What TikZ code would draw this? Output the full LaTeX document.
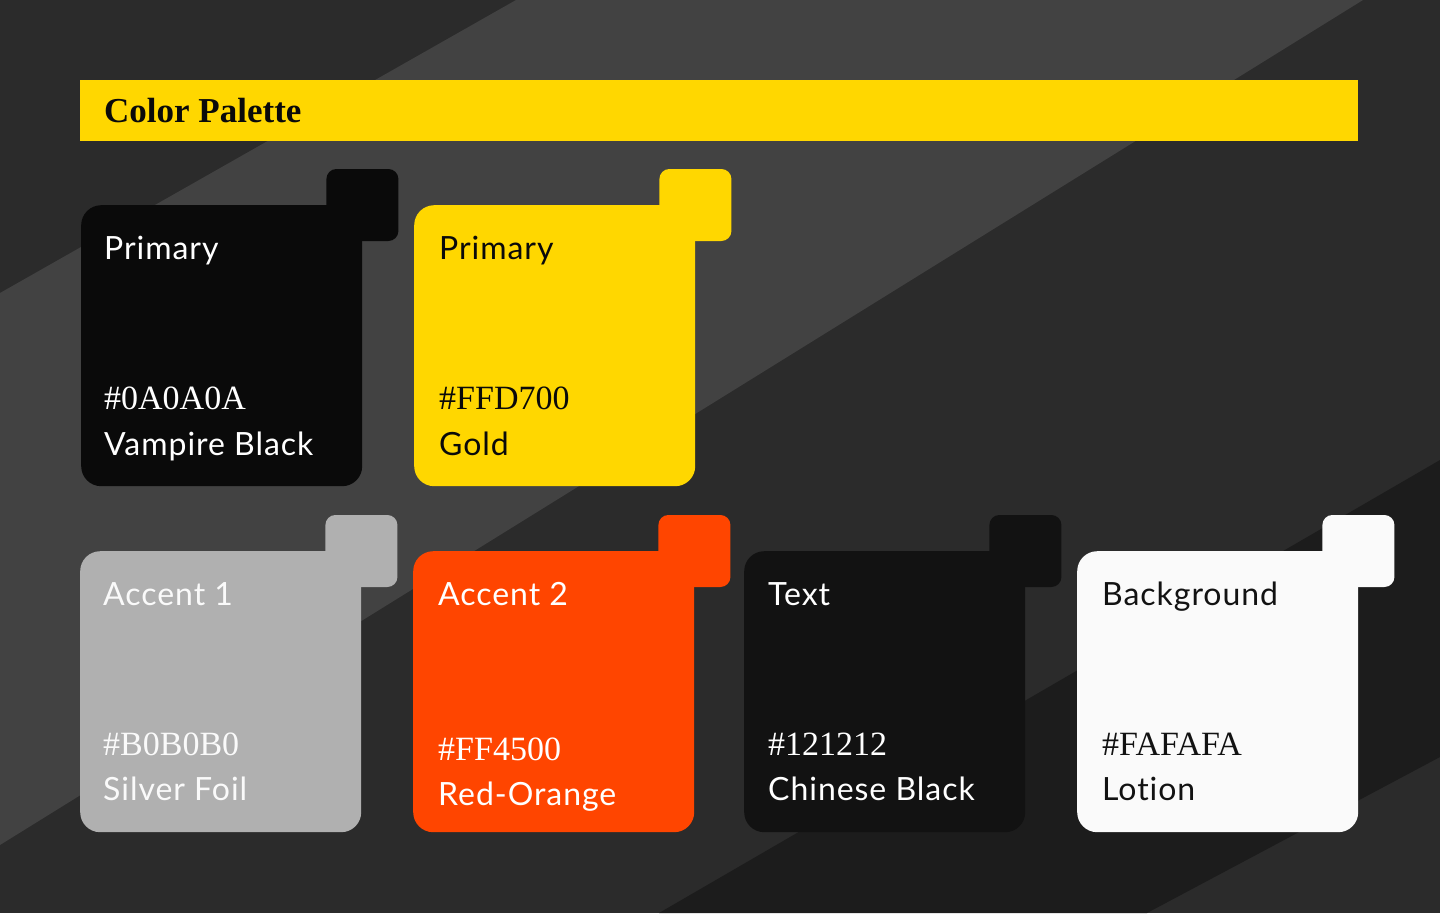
\documentclass[tikz,border=0pt]{standalone}
\usepackage{fontspec}
\newfontfamily\labelfont{Lato}[LetterSpace=3, Ligatures=NoCommon]
\newfontfamily\titlefont{Liberation Serif}
\usetikzlibrary{calc}
\definecolor{bgbase}{HTML}{2B2B2B}
\definecolor{bglight}{HTML}{424242}
\definecolor{bgdark}{HTML}{1C1C1C}
\definecolor{vampire}{HTML}{0A0A0A}
\definecolor{gold}{HTML}{FFD700}
\definecolor{silver}{HTML}{B0B0B0}
\definecolor{redorange}{HTML}{FF4500}
\definecolor{chinese}{HTML}{121212}
\definecolor{lotion}{HTML}{FAFAFA}

\begin{document}
\begin{tikzpicture}[x=1pt, y=-1pt,
    card/.style={rounded corners=20pt, minimum width=281pt, minimum height=281pt, inner sep=0pt, anchor=north west},
    tab/.style={rounded corners=10pt, minimum size=72pt, inner sep=0pt},
    swatchtext/.style={anchor=base west, inner sep=0pt, font=\labelfont\fontsize{32}{36}\selectfont},
    swatchhex/.style={anchor=base west, inner sep=0pt, font=\titlefont\fontsize{34}{38}\selectfont}]
  % background and bands
  \useasboundingbox (0,0) rectangle (1440,913);
  \fill[bgbase] (0,0) rectangle (1440,913);
  \fill[bglight] (516,0) -- (1363,0) -- (0,845) -- (0,293) -- cycle;
  \fill[bgdark] (1440,460) -- (1440,757) -- (1147,913) -- (659,913) -- cycle;

  % title
  \node[fill=gold, minimum width=1278pt, minimum height=61pt, inner sep=0pt, anchor=north west] (titlebar) at (80,80) {};
  \node[anchor=base west, inner sep=0pt, font=\titlefont\bfseries\fontsize{35}{40}\selectfont, text=vampire] (title) at ($(titlebar.north west)+(24,42)$) {Color Palette};

  % primary: vampire black
  \node[card, fill=vampire] (vampirecard) at (81,205) {};
  \node[tab, fill=vampire] (vampiretab) at (vampirecard.north east) {};
  \node[swatchtext, text=white] (vampirerole) at ($(vampirecard.north west)+(23,54)$) {Primary};
  \node[swatchhex, text=white] (vampirehex) at ($(vampirecard.north west)+(23,204)$) {\#0A0A0A};
  \node[swatchtext, text=white] (vampirename) at ($(vampirecard.north west)+(23,250)$) {Vampire Black};

  % primary: gold
  \node[card, fill=gold] (goldcard) at (414,205) {};
  \node[tab, fill=gold] (goldtab) at (goldcard.north east) {};
  \node[swatchtext, text=vampire] (goldrole) at ($(goldcard.north west)+(25,54)$) {Primary};
  \node[swatchhex, text=vampire] (goldhex) at ($(goldcard.north west)+(25,204)$) {\#FFD700};
  \node[swatchtext, text=vampire] (goldname) at ($(goldcard.north west)+(25,250)$) {Gold};

  % accent 1: silver foil
  \node[card, fill=silver] (silvercard) at (80,551) {};
  \node[tab, fill=silver] (silvertab) at (silvercard.north east) {};
  \node[swatchtext, text=lotion] (silverrole) at ($(silvercard.north west)+(23,54)$) {Accent 1};
  \node[swatchhex, text=lotion] (silverhex) at ($(silvercard.north west)+(23,204)$) {\#B0B0B0};
  \node[swatchtext, text=lotion] (silvername) at ($(silvercard.north west)+(23,249)$) {Silver Foil};

  % accent 2: red-orange
  \node[card, fill=redorange] (orangecard) at (413,551) {};
  \node[tab, fill=redorange] (orangetab) at (orangecard.north east) {};
  \node[swatchtext, text=white] (orangerole) at ($(orangecard.north west)+(25,54)$) {Accent 2};
  \node[swatchhex, text=white] (orangehex) at ($(orangecard.north west)+(25,209)$) {\#FF4500};
  \node[swatchtext, text=white] (orangename) at ($(orangecard.north west)+(25,254)$) {Red-Orange};

  % text: chinese black
  \node[card, fill=chinese] (chinesecard) at (744,551) {};
  \node[tab, fill=chinese] (chinesetab) at (chinesecard.north east) {};
  \node[swatchtext, text=white] (chineserole) at ($(chinesecard.north west)+(24,54)$) {Text};
  \node[swatchhex, text=white] (chinesehex) at ($(chinesecard.north west)+(24,204)$) {\#121212};
  \node[swatchtext, text=white] (chinesename) at ($(chinesecard.north west)+(24,249)$) {Chinese Black};

  % background: lotion
  \node[card, fill=lotion] (lotioncard) at (1077,551) {};
  \node[tab, fill=lotion] (lotiontab) at (lotioncard.north east) {};
  \node[swatchtext, text=chinese] (lotionrole) at ($(lotioncard.north west)+(25,54)$) {Background};
  \node[swatchhex, text=chinese] (lotionhex) at ($(lotioncard.north west)+(25,204)$) {\#FAFAFA};
  \node[swatchtext, text=chinese] (lotionname) at ($(lotioncard.north west)+(25,249)$) {Lotion};
\end{tikzpicture}
\end{document}
